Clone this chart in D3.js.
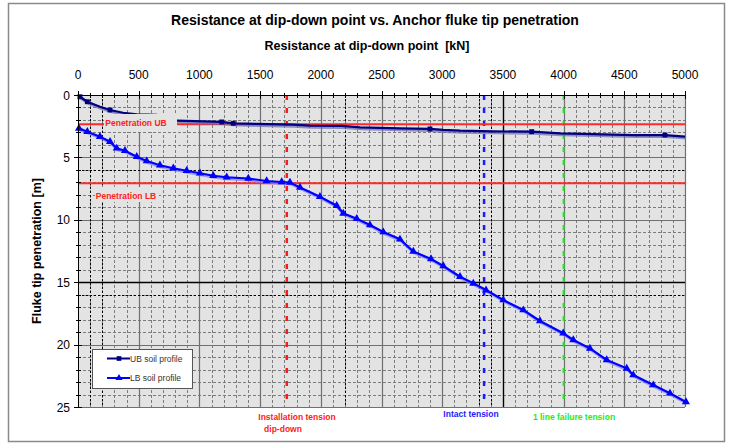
<!DOCTYPE html>
<html>
<head>
<meta charset="utf-8">
<script src="https://cdn.jsdelivr.net/npm/d3@7"></script>
<style>
  html, body { margin: 0; padding: 0; background: #ffffff; }
  svg { display: block; font-family: "Liberation Sans", Arial, sans-serif; }
</style>
</head>
<body>
<svg id="chart" width="731" height="446"></svg>
<script>
// ---------------- data ----------------
const title = "Resistance at dip-down point vs. Anchor fluke tip penetration";
const xTitle = "Resistance at dip-down point  [kN]";
const yTitle = "Fluke tip penetration [m]";

const xTicks = [0, 500, 1000, 1500, 2000, 2500, 3000, 3500, 4000, 4500, 5000];
const yTicks = [0, 5, 10, 15, 20, 25];

// UB soil profile: resistance [kN], penetration [m]
const ubX = [16, 77, 181, 264, 371, 484, 648, 813, 1184, 1279, 1472, 1771, 1911, 2172, 2323, 2652, 2899, 3009, 3147, 3421, 3737, 3970, 4245, 4574, 4835, 5000];
const ubY = [0.14, 0.54, 0.94, 1.20, 1.42, 1.55, 1.60, 2.06, 2.16, 2.27, 2.32, 2.38, 2.46, 2.48, 2.59, 2.67, 2.72, 2.80, 2.86, 2.91, 2.94, 3.07, 3.13, 3.21, 3.21, 3.33];
const ubMarkers = [0, 1, 3, 8, 9, 16, 20, 24];

// LB soil profile
const lbX = [8, 77, 181, 264, 319, 387, 484, 566, 675, 785, 895, 1005, 1114, 1225, 1403, 1554, 1678, 1746, 1829, 1993, 2131, 2185, 2296, 2405, 2515, 2652, 2762, 2908, 3009, 3147, 3256, 3361, 3503, 3668, 3805, 3997, 4080, 4217, 4355, 4520, 4574, 4739, 4876, 5008];
const lbY = [2.67, 2.94, 3.34, 3.74, 4.27, 4.46, 4.94, 5.29, 5.63, 5.87, 6.07, 6.27, 6.47, 6.59, 6.69, 6.89, 6.97, 7.01, 7.41, 8.15, 8.87, 9.48, 9.91, 10.42, 10.98, 11.56, 12.54, 13.14, 13.70, 14.56, 15.09, 15.63, 16.43, 17.23, 18.11, 19.09, 19.63, 20.30, 21.23, 21.90, 22.44, 23.24, 23.90, 24.60];

// horizontal penetration limits
const penNames = ["Penetration UB", "Penetration LB"];
const penValues = [2.35, 7.07];

// vertical tension lines
const tensionNames = [["Installation tension", "dip-down"], ["Intact tension"], ["1 line failure tension"]];
const tensionValues = [1720, 3345, 4000];
const tensionColors = ["#ff1a1a", "#1a1aff", "#1aee1a"];

// black reference grid lines
const blackDottedX = [100, 200, 2200, 3300, 3400];
const blackSolidX = [3500];
const blackDottedY = [6, 16];
const blackSolidY = [15];

const legendNames = ["UB soil profile", "LB soil profile"];

// ---------------- layout ----------------
const svg = d3.select("#chart");
const L = 78, R = 685, T = 95, B = 407;
const x = d3.scaleLinear().domain([0, 5000]).range([L, R]);
const y = d3.scaleLinear().domain([0, 25]).range([T, B]);

// outer frame
svg.append("rect").attr("x", 8.5).attr("y", 3.5).attr("width", 716).attr("height", 438)
  .attr("fill", "#fff").attr("stroke", "#8a8a8a").attr("stroke-width", 1.5);

// plot background
svg.append("rect").attr("x", L).attr("y", T).attr("width", R - L).attr("height", B - T)
  .attr("fill", "#e3e3e3");

const grid = svg.append("g");
const minorX = d3.range(0, 5001, 100).filter(v => v % 500 !== 0);
const majorX = d3.range(500, 5001, 500);
const minorY = d3.range(0, 26, 1).filter(v => v % 5 !== 0);
const majorY = d3.range(5, 26, 5);
const gridCol = "#7c7c7c";

grid.selectAll(".mnx").data(minorX).join("line")
  .attr("x1", d => Math.round(x(d)) + 0.5).attr("x2", d => Math.round(x(d)) + 0.5)
  .attr("y1", T).attr("y2", B).attr("stroke", gridCol).attr("stroke-width", 1).attr("stroke-dasharray", "3,2");
grid.selectAll(".mny").data(minorY).join("line")
  .attr("y1", d => Math.round(y(d)) + 0.5).attr("y2", d => Math.round(y(d)) + 0.5)
  .attr("x1", L).attr("x2", R).attr("stroke", gridCol).attr("stroke-width", 1).attr("stroke-dasharray", "3,2");
grid.selectAll(".mjx").data(majorX).join("line")
  .attr("x1", d => Math.round(x(d)) + 0.5).attr("x2", d => Math.round(x(d)) + 0.5)
  .attr("y1", T).attr("y2", B).attr("stroke", "#707070").attr("stroke-width", 1.2);
grid.selectAll(".mjy").data(majorY).join("line")
  .attr("y1", d => Math.round(y(d)) + 0.5).attr("y2", d => Math.round(y(d)) + 0.5)
  .attr("x1", L).attr("x2", R).attr("stroke", "#707070").attr("stroke-width", 1.2);

// black reference lines
grid.selectAll(".bdx").data(blackDottedX).join("line")
  .attr("x1", d => Math.round(x(d)) + 0.5).attr("x2", d => Math.round(x(d)) + 0.5)
  .attr("y1", T).attr("y2", B).attr("stroke", "#000").attr("stroke-dasharray", "2,2");
grid.selectAll(".bsx").data(blackSolidX).join("line")
  .attr("x1", d => Math.round(x(d)) + 0.5).attr("x2", d => Math.round(x(d)) + 0.5)
  .attr("y1", T).attr("y2", B).attr("stroke", "#000").attr("stroke-width", 1.3);
grid.selectAll(".bdy").data(blackDottedY).join("line")
  .attr("y1", d => Math.round(y(d)) + 0.5).attr("y2", d => Math.round(y(d)) + 0.5)
  .attr("x1", L).attr("x2", R).attr("stroke", "#000").attr("stroke-dasharray", "2,2");
grid.selectAll(".bsy").data(blackSolidY).join("line")
  .attr("y1", d => Math.round(y(d)) + 0.5).attr("y2", d => Math.round(y(d)) + 0.5)
  .attr("x1", L).attr("x2", R).attr("stroke", "#000").attr("stroke-width", 1.3);

// plot border (right / bottom)
svg.append("line").attr("x1", R + 0.5).attr("x2", R + 0.5).attr("y1", T).attr("y2", B).attr("stroke", "#707070");
svg.append("line").attr("x1", L).attr("x2", R).attr("y1", B + 0.5).attr("y2", B + 0.5).attr("stroke", "#707070");

// vertical tension lines
svg.selectAll(".tens").data(tensionValues).join("line")
  .attr("x1", d => x(d)).attr("x2", d => x(d)).attr("y1", T).attr("y2", B)
  .attr("stroke", (d, i) => tensionColors[i]).attr("stroke-width", (d, i) => i === 2 ? 2 : 2.5)
  .attr("stroke-dasharray", "5,8");

// penetration limit lines
svg.selectAll(".pen").data(penValues).join("line")
  .attr("x1", L).attr("x2", R).attr("y1", d => y(d)).attr("y2", d => y(d))
  .attr("stroke", "#ff2a2a").attr("stroke-width", 2);

// curves
const line = d3.line().x(d => x(d[0])).y(d => y(d[1]));
const ub = ubX.map((v, i) => [v, ubY[i]]);
const lb = lbX.map((v, i) => [v, lbY[i]]);

function drawSeries(pts, color, shadow, symbolType, markIdx, size) {
  const g = svg.append("g");
  g.append("path").attr("d", line(pts)).attr("fill", "none").attr("stroke", shadow)
    .attr("stroke-width", 3).attr("transform", "translate(1,1.5)").attr("opacity", 0.7);
  g.append("path").attr("d", line(pts)).attr("fill", "none").attr("stroke", color).attr("stroke-width", 2.2);
  const sym = d3.symbol().type(symbolType).size(size);
  g.selectAll(".mk").data(markIdx.map(i => pts[i])).join("path")
    .attr("d", sym).attr("transform", d => `translate(${x(d[0])},${y(d[1])})`)
    .attr("fill", color);
}
drawSeries(ub, "#000080", "#6a6ab0", d3.symbolSquare, ubMarkers, 24);
drawSeries(lb, "#0000ff", "#7f7fff", d3.symbolTriangle, d3.range(lb.length), 28);

// penetration labels with plot-coloured boxes
const penLabelBox = [[104, 114, 73, 18], [95, 187, 64, 15]];
const penLabelPos = [[136, 125.5], [126, 198.5]];
penNames.forEach((n, i) => {
  const b = penLabelBox[i];
  svg.append("rect").attr("x", b[0]).attr("y", b[1]).attr("width", b[2]).attr("height", b[3]).attr("fill", "#e3e3e3");
  svg.append("text").attr("x", penLabelPos[i][0]).attr("y", penLabelPos[i][1]).attr("text-anchor", "middle")
    .attr("font-size", 8.5).attr("font-weight", "bold").attr("fill", "#ff2020").text(n);
});

// axes
const xAxis = svg.append("g");
xAxis.append("line").attr("x1", L).attr("x2", R).attr("y1", T + 0.5).attr("y2", T + 0.5).attr("stroke", "#000");
xAxis.selectAll(".tk").data(d3.range(0, 5001, 100)).join("line")
  .attr("x1", d => Math.round(x(d)) + 0.5).attr("x2", d => Math.round(x(d)) + 0.5)
  .attr("y1", d => T - (d % 500 === 0 ? 4 : 2)).attr("y2", d => T + (d % 500 === 0 ? 4 : 3))
  .attr("stroke", "#000");
xAxis.selectAll(".lbl").data(xTicks).join("text")
  .attr("x", d => x(d)).attr("y", 78.5).attr("text-anchor", "middle").attr("font-size", 12).text(d => d);

const yAxis = svg.append("g");
yAxis.append("line").attr("x1", L + 0.5).attr("x2", L + 0.5).attr("y1", T).attr("y2", B).attr("stroke", "#000");
yAxis.selectAll(".tk").data(d3.range(0, 26, 1)).join("line")
  .attr("y1", d => Math.round(y(d)) + 0.5).attr("y2", d => Math.round(y(d)) + 0.5)
  .attr("x1", d => L - (d % 5 === 0 ? 4 : 2)).attr("x2", d => L + (d % 5 === 0 ? 4 : 3))
  .attr("stroke", "#000");
yAxis.selectAll(".lbl").data(yTicks).join("text")
  .attr("x", 70).attr("y", d => y(d) + 4.5).attr("text-anchor", "end").attr("font-size", 12).text(d => d);

// titles
svg.append("text").attr("x", 375).attr("y", 25).attr("text-anchor", "middle")
  .attr("font-size", 14).attr("font-weight", "bold").text(title);
svg.append("text").attr("x", 367).attr("y", 49.5).attr("text-anchor", "middle")
  .attr("font-size", 12.5).attr("font-weight", "bold").attr("xml:space", "preserve").text(xTitle);
svg.append("text").attr("transform", `translate(41,${(T + B) / 2}) rotate(-90)`).attr("text-anchor", "middle")
  .attr("font-size", 12.5).attr("font-weight", "bold").text(yTitle);

// tension labels
const tensionLabelPos = [[297, 420], [471, 417], [574, 420]];
tensionNames.forEach((lines, i) => {
  lines.forEach((t, j) => {
    svg.append("text").attr("x", tensionLabelPos[i][0] - (j === 1 ? 14 : 0)).attr("y", tensionLabelPos[i][1] + j * 12)
      .attr("text-anchor", "middle").attr("font-size", 8.5).attr("font-weight", "bold")
      .attr("fill", tensionColors[i]).text(t);
  });
});

// legend
const lg = svg.append("g");
lg.append("rect").attr("x", 92.5).attr("y", 349.5).attr("width", 100).attr("height", 39)
  .attr("fill", "#fff").attr("stroke", "#555");
const legColors = ["#000080", "#0000ff"];
const legSyms = [d3.symbolSquare, d3.symbolTriangle];
legendNames.forEach((n, i) => {
  const yy = 358.5 + i * 19.5;
  lg.append("line").attr("x1", 107).attr("x2", 130).attr("y1", yy).attr("y2", yy).attr("stroke", legColors[i]).attr("stroke-width", 2);
  lg.append("path").attr("d", d3.symbol().type(legSyms[i]).size(22)()).attr("transform", `translate(119,${yy})`).attr("fill", legColors[i]);
  lg.append("text").attr("x", 130).attr("y", yy + 3).attr("font-size", 8.5).attr("fill", "#333").text(n);
});
</script>
</body>
</html>
